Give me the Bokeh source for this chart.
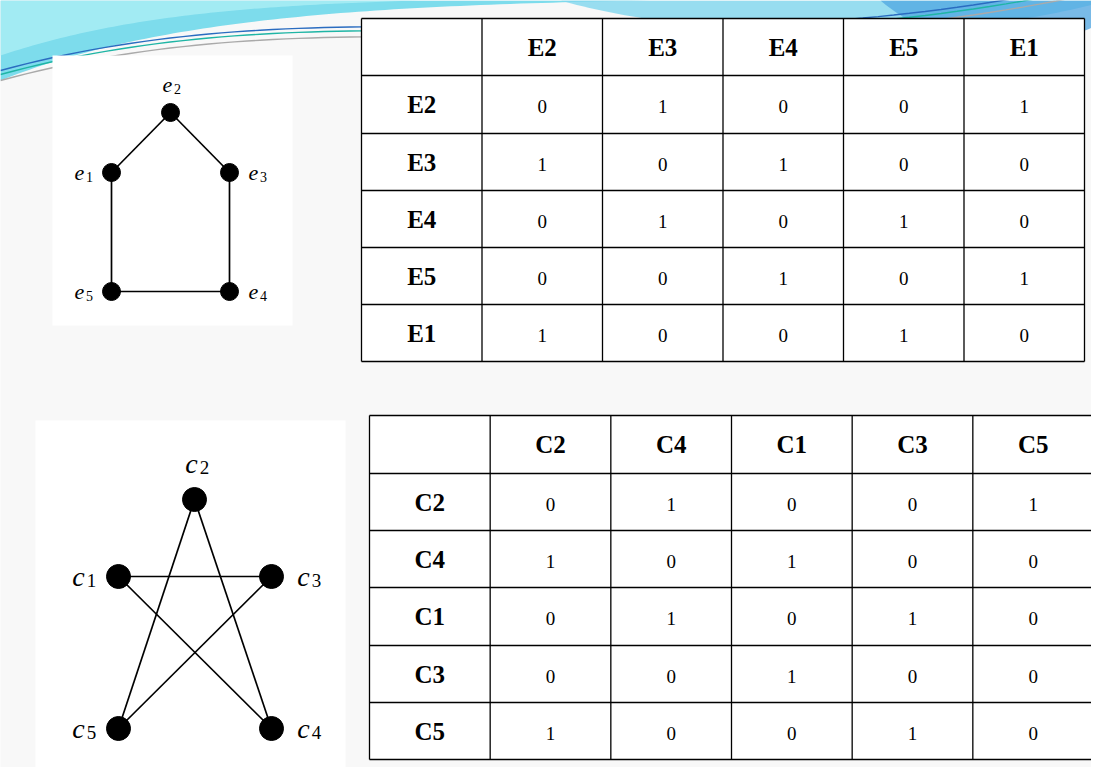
import numpy as np
from bokeh.plotting import figure
from bokeh.models import Range1d
from bokeh.core.properties import value
from bokeh.embed import file_html
from bokeh.resources import INLINE

# adjacency tables
e_labels = ["E2", "E3", "E4", "E5", "E1"]
e_matrix = [[0, 1, 0, 0, 1],
            [1, 0, 1, 0, 0],
            [0, 1, 0, 1, 0],
            [0, 0, 1, 0, 1],
            [1, 0, 0, 1, 0]]
c_labels = ["C2", "C4", "C1", "C3", "C5"]
c_matrix = [[0, 1, 0, 0, 1],
            [1, 0, 1, 0, 0],
            [0, 1, 0, 1, 0],
            [0, 0, 1, 0, 0],
            [1, 0, 0, 1, 0]]

# graphs (page pixel positions)
e_nodes = {"e2": (170, 112), "e1": (111, 172), "e3": (229, 172), "e5": (111, 291), "e4": (229, 291)}
e_edges = [("e1", "e2"), ("e2", "e3"), ("e3", "e4"), ("e4", "e5"), ("e5", "e1")]
c_nodes = {"c2": (194, 499), "c1": (118, 576), "c3": (271, 576), "c5": (118, 728), "c4": (271, 728)}
c_edges = [("c2", "c5"), ("c2", "c4"), ("c1", "c3"), ("c1", "c4"), ("c3", "c5")]

SERIF = value("Liberation Serif")

p = figure(width=1091, height=767, x_range=Range1d(0, 1091), y_range=Range1d(767, 0),
           output_backend="svg", toolbar_location=None, min_border=0)
p.axis.visible = False
p.grid.visible = False
p.outline_line_color = None
p.background_fill_color = "#f8f8f8"
p.border_fill_color = "#f8f8f8"


def bez(p0, p1, p2, p3, n=80):
    t = np.linspace(0, 1, n)[:, None]
    pts = ((1 - t) ** 3 * np.array(p0) + 3 * (1 - t) ** 2 * t * np.array(p1)
           + 3 * (1 - t) * t ** 2 * np.array(p2) + t ** 3 * np.array(p3))
    return list(pts[:, 0]), list(pts[:, 1])


# top decoration
ax, ay = bez((0, 80), (150, 20), (350, 5), (650, 0))
p.patch([0] + ax + [0], [0] + ay + [0], fill_color="#6fd8ea", fill_alpha=0.9, line_color=None)
bx, by = bez((0, 55), (120, 15), (250, 5), (420, 0))
p.patch([0] + bx + [0], [0] + by + [0], fill_color="#a6ecf4", fill_alpha=0.9, line_color=None)
cx, cy = bez((560, 0), (700, 40), (950, 45), (1107, 0))
p.patch(cx, cy, fill_color="#7fd6ee", fill_alpha=0.8, line_color=None)
dx, dy = bez((880, 0), (950, 60), (1050, 50), (1107, 20))
p.patch(dx + [1107], dy + [0], fill_color="#4fa6e2", fill_alpha=0.75, line_color=None)
for off, col in [(0, "#2a6cc0"), (4, "#1fb5a5"), (10, "#aaaaaa")]:
    lx, ly = bez((0, 70 + off), (350, -25 + off), (650, 80 + off), (1107, -20 + off))
    p.line(lx, ly, line_color=col, line_width=1.4)

# graph panels
p.quad(left=[52, 35], right=[292, 345], top=[55, 420], bottom=[325, 770],
       fill_color="white", line_color=None)


def draw_graph(nodes, edges, r, label_off, fsize, ssize):
    for a, b in edges:
        p.line([nodes[a][0], nodes[b][0]], [nodes[a][1], nodes[b][1]], line_color="black", line_width=1.7)
    xs = [v[0] for v in nodes.values()]
    ys = [v[1] for v in nodes.values()]
    p.scatter(xs, ys, size=2 * r, color="black")
    cxm = np.mean(xs)
    for name, (x, y) in nodes.items():
        if y == min(ys):
            tx, ty = x - 3, y - label_off
        elif x < cxm:
            tx, ty = x - label_off - 4, y
        else:
            tx, ty = x + label_off - 4, y
        p.text([tx], [ty], text=[name[0]], text_font=SERIF, text_font_style="italic",
               text_font_size=fsize, text_align="center", text_baseline="middle")
        p.text([tx + r + 1], [ty + 4], text=[name[1]], text_font=SERIF,
               text_font_size=ssize, text_align="center", text_baseline="middle")


draw_graph(e_nodes, e_edges, 9, 28, "22px", "14px")
draw_graph(c_nodes, c_edges, 12, 36, "28px", "19px")


def draw_table(x0, x1, rows_y, labels, matrix):
    n = len(labels) + 1
    xs = np.linspace(x0, x1, n + 1)
    p.quad(left=[x0], right=[x1], top=[rows_y[0]], bottom=[rows_y[-1]], fill_color="white", line_color=None)
    for x in xs:
        p.line([x, x], [rows_y[0], rows_y[-1]], line_color="black", line_width=1.3)
    for y in rows_y:
        p.line([x0, x1], [y, y], line_color="black", line_width=1.3)
    cxs = (xs[:-1] + xs[1:]) / 2
    cys = [(rows_y[i] + rows_y[i + 1]) / 2 for i in range(n)]
    p.text(list(cxs[1:]), [cys[0]] * len(labels), text=labels, text_font=SERIF, text_font_style="bold",
           text_font_size="25px", text_align="center", text_baseline="middle")
    p.text([cxs[0]] * len(labels), cys[1:], text=labels, text_font=SERIF, text_font_style="bold",
           text_font_size="25px", text_align="center", text_baseline="middle")
    tx, ty, tt = [], [], []
    for i, row in enumerate(matrix):
        for j, v in enumerate(row):
            tx.append(cxs[j + 1]); ty.append(cys[i + 1] + 2); tt.append(str(v))
    p.text(tx, ty, text=tt, text_font=SERIF, text_font_size="19px", text_align="center", text_baseline="middle")


draw_table(361, 1084, [18, 75, 133, 190, 247, 304, 361], e_labels, e_matrix)
draw_table(369, 1093, [415, 473, 530, 587, 645, 702, 759], c_labels, c_matrix)

open("out.html", "w").write(file_html(p, INLINE))
